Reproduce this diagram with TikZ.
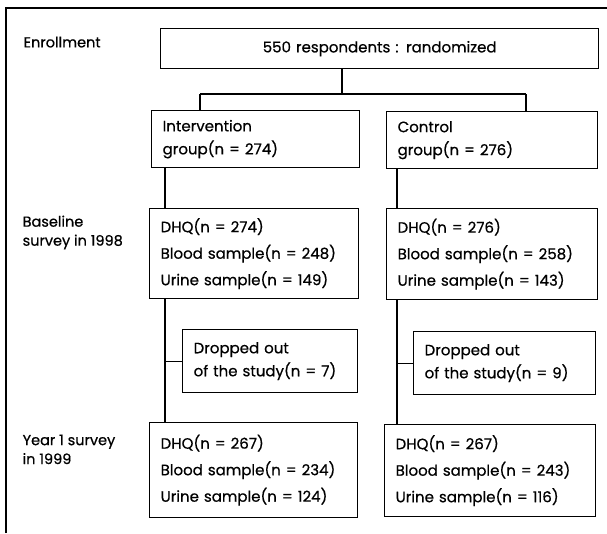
\documentclass[tikz,border=0pt]{standalone}
\usepackage{fontspec}
\setmainfont{Poppins}[FakeBold=0.6]
\tikzset{
  box/.style={draw, anchor=north west, align=left, inner xsep=11pt, inner ysep=0pt},
  lbl/.style={anchor=north west, align=left, inner sep=0pt, font=\fontsize{14.5}{19}\selectfont},
  two/.style={font=\fontsize{15}{23}\selectfont},
  three/.style={font=\fontsize{15}{26.5}\selectfont},
}
\begin{document}
\begin{tikzpicture}[x=1pt,y=-1pt,line width=1.3pt]
    \useasboundingbox (0,0) rectangle (607,533);
    \draw[line width=1.8pt] (6,533) -- (6,8) -- (607,8);

    \node[lbl] (e) at (23,36) {Enrollment};
    \node[lbl] (b) at (22,215) {Baseline\\survey in 1998};
    \node[lbl] (y) at (22,434) {Year 1 survey\\in 1999};

    \node[box,two,align=center,text width=416,minimum height=40] (0) at (160,28) {550 respondents : randomized};
    \node[box,two,text width=186,minimum height=57] (1) at (151,110) {Intervention\\group(n = 274)};
    \node[box,two,text width=189,minimum height=57] (2) at (386,111) {Control\\group(n = 276)};
    \node[box,three,text width=187,minimum height=90] (3) at (149,208) {DHQ(n = 274)\\Blood sample(n = 248)\\Urine sample(n = 149)};
    \node[box,three,text width=189,minimum height=91] (4) at (386,208) {DHQ(n = 276)\\Blood sample(n = 258)\\Urine sample(n = 143)};
    \node[box,two,text width=153,minimum height=63] (5) at (182,329) {Dropped out\\of the study(n = 7)};
    \node[box,two,text width=160,minimum height=63] (6) at (413,331) {Dropped out\\of the study(n = 9)};
    \node[box,three,text width=186,minimum height=95] (7) at (149,422) {DHQ(n = 267)\\Blood sample(n = 234)\\Urine sample(n = 124)};
    \node[box,three,text width=189,minimum height=92] (8) at (384,424) {DHQ(n = 267)\\Blood sample(n = 243)\\Urine sample(n = 116)};

    \coordinate (f) at (342,94);
    \coordinate (fL) at (200,94);
    \coordinate (fR) at (526,94);
    \coordinate (tL) at (165,0);
    \coordinate (tR) at (397,0);

    \path
    (0.south -| f) edge (f)
    (fL) edge (fR)
    (fL) edge (fL |- 1.north)
    (fR) edge (fR |- 2.north)
    (tL |- 1.south) edge (tL |- 3.north)
    (tL |- 3.south) edge (tL |- 7.north)
    (tL |- 5.west) edge (5.west)
    (tR |- 2.south) edge (tR |- 4.north)
    (tR |- 4.south) edge (tR |- 8.north)
    (tR |- 6.west) edge (6.west)
    ;
\end{tikzpicture}
\end{document}
